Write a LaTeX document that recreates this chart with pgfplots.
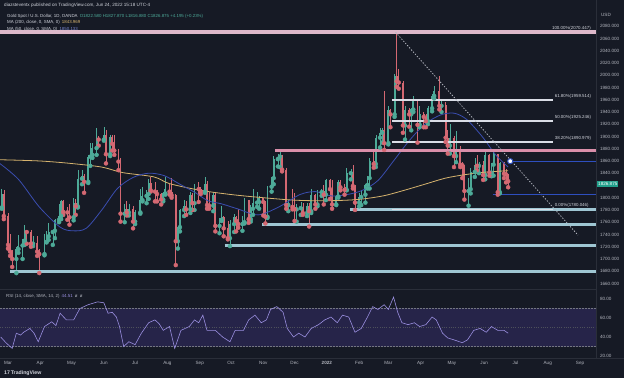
\documentclass[border=0pt]{standalone}
\usepackage{pgfplots}
\pgfplotsset{compat=1.18}
\usepackage{pgfplotstable}
\usepackage{fontspec}
\setmainfont{Liberation Sans}
\definecolor{bg}{HTML}{161A25}
\definecolor{txt}{HTML}{B2B5BE}
\definecolor{hdr}{HTML}{D1D4DC}
\definecolor{upc}{HTML}{4DAA98}
\definecolor{dnc}{HTML}{D46872}
\definecolor{ma200}{HTML}{D6B36E}
\definecolor{ma50}{HTML}{3A4DB0}
\definecolor{sup}{HTML}{9FC6D3}
\definecolor{pinkl}{HTML}{DA8FAA}
\definecolor{pinktop}{HTML}{DDB8CA}
\definecolor{fibw}{HTML}{DADDE6}
\definecolor{blu}{HTML}{2E4FBF}
\definecolor{rsil}{HTML}{9A8FE0}
\definecolor{rsiband}{HTML}{262449}
\definecolor{sep}{HTML}{2A2E39}
\definecolor{pricebox}{HTML}{22A08C}

\pgfplotstableread{
d o h l c
-6 1784 1815 1782 1806
-4 1806 1812 1765 1770
0 1770 1775 1717 1723
2 1723 1740 1705 1712
4 1712 1715 1687 1700
8 1700 1720 1677 1716
10 1716 1739 1710 1722
14 1722 1733 1700 1730
16 1730 1755 1723 1745
18 1745 1746 1725 1744
22 1744 1747 1720 1725
24 1725 1737 1721 1726
28 1726 1737 1705 1712
30 1712 1717 1677 1708
35 1708 1741 1706 1728
37 1728 1745 1727 1737
39 1737 1758 1731 1744
43 1744 1748 1723 1746
45 1746 1766 1734 1764
49 1764 1790 1760 1770
51 1770 1797 1765 1794
53 1794 1797 1772 1777
57 1777 1785 1764 1776
59 1776 1790 1756 1768
63 1768 1799 1763 1792
65 1792 1798 1772 1786
67 1786 1845 1784 1831
71 1831 1845 1822 1836
73 1836 1838 1808 1826
77 1826 1869 1824 1867
79 1867 1890 1852 1870
81 1870 1890 1865 1881
85 1881 1913 1870 1897
87 1897 1900 1885 1895
92 1895 1916 1893 1903
94 1903 1910 1856 1871
98 1871 1903 1868 1899
100 1899 1903 1877 1888
102 1888 1903 1870 1877
106 1877 1879 1845 1859
108 1859 1865 1761 1774
112 1774 1790 1760 1782
114 1782 1795 1771 1776
116 1776 1790 1771 1781
120 1781 1786 1750 1761
122 1761 1780 1757 1776
127 1776 1815 1774 1796
129 1796 1818 1794 1803
133 1803 1812 1791 1806
135 1806 1830 1798 1824
137 1824 1834 1810 1812
141 1812 1825 1794 1810
143 1810 1813 1794 1806
147 1806 1808 1789 1797
149 1797 1810 1794 1807
151 1807 1833 1805 1814
155 1814 1822 1805 1810
157 1810 1832 1800 1804
161 1804 1806 1690 1729
163 1729 1754 1717 1752
165 1752 1782 1745 1780
169 1780 1796 1770 1787
171 1787 1795 1772 1781
175 1781 1809 1775 1805
177 1805 1808 1780 1791
179 1791 1823 1780 1818
183 1818 1826 1793 1814
185 1814 1817 1806 1810
189 1810 1834 1808 1823
191 1823 1827 1782 1788
193 1788 1809 1782 1787
197 1787 1809 1778 1804
199 1804 1808 1745 1754
203 1754 1767 1742 1764
205 1764 1787 1762 1768
207 1768 1770 1737 1750
211 1750 1762 1732 1734
213 1734 1764 1721 1757
217 1757 1773 1744 1769
219 1769 1770 1745 1762
221 1762 1781 1751 1757
225 1757 1770 1746 1760
227 1760 1800 1758 1796
231 1796 1797 1759 1765
233 1765 1788 1761 1782
235 1782 1814 1772 1792
239 1792 1810 1785 1793
241 1793 1803 1782 1799
245 1799 1800 1771 1793
247 1793 1795 1758 1769
249 1769 1819 1767 1818
253 1818 1834 1810 1832
255 1832 1868 1822 1863
259 1863 1872 1851 1867
261 1867 1877 1850 1869
263 1869 1870 1843 1846
267 1846 1849 1782 1788
269 1788 1797 1778 1792
273 1792 1815 1781 1785
275 1785 1808 1762 1781
277 1781 1790 1761 1783
281 1783 1793 1772 1785
283 1785 1792 1772 1775
287 1775 1792 1770 1787
289 1787 1792 1753 1778
291 1778 1815 1775 1804
295 1804 1806 1782 1789
297 1789 1812 1786 1809
301 1809 1815 1803 1811
303 1811 1820 1789 1805
305 1805 1831 1796 1829
309 1829 1831 1798 1814
311 1814 1829 1782 1789
315 1789 1805 1788 1802
317 1802 1829 1800 1826
319 1826 1829 1812 1817
323 1817 1823 1805 1813
325 1813 1848 1812 1840
329 1840 1847 1830 1842
331 1842 1853 1815 1819
333 1819 1820 1780 1792
337 1792 1808 1786 1801
339 1801 1812 1788 1805
343 1805 1823 1792 1821
345 1821 1836 1815 1832
347 1832 1865 1815 1860
351 1860 1880 1849 1855
353 1855 1902 1850 1898
357 1898 1913 1882 1906
359 1906 1914 1890 1910
361 1910 1974 1878 1889
365 1889 1950 1887 1943
367 1943 1945 1915 1936
371 1936 2002 1932 1998
373 1998 2070 1981 1990
375 1990 2010 1978 1988
379 1988 1990 1906 1918
381 1918 1950 1895 1943
385 1943 1947 1916 1936
387 1936 1947 1910 1944
389 1944 1966 1940 1958
393 1958 1960 1890 1919
395 1919 1950 1915 1937
399 1937 1940 1915 1932
401 1932 1937 1915 1925
403 1925 1949 1920 1946
407 1946 1970 1941 1966
409 1966 1982 1962 1974
414 1974 1998 1944 1950
416 1950 1960 1940 1951
420 1951 1957 1891 1898
422 1898 1910 1872 1885
424 1885 1920 1872 1897
428 1897 1900 1850 1868
430 1868 1909 1858 1876
434 1876 1884 1850 1854
436 1854 1858 1832 1853
438 1853 1854 1797 1811
442 1811 1832 1787 1814
444 1814 1848 1807 1842
448 1842 1865 1834 1853
450 1853 1870 1845 1852
452 1852 1858 1840 1853
456 1853 1860 1829 1837
458 1837 1874 1830 1870
462 1870 1872 1836 1841
464 1841 1856 1835 1854
466 1854 1875 1836 1871
470 1871 1872 1805 1809
472 1809 1858 1807 1857
476 1857 1858 1832 1839
478 1839 1847 1825 1838
480 1838 1839 1817 1826.875
}\candles

\pgfplotstableread{
d v
-8 1862
30 1860
60 1856
90 1850
110 1841
140 1834
155 1823
185 1812
215 1805
245 1800
275 1796
305 1795
335 1797
360 1803
380 1812
400 1822
420 1832
440 1838
460 1842
480 1844
}\maA

\pgfplotstableread{
d v
-8 1856
10 1830
30 1785
50 1752
62 1746
75 1750
90 1780
105 1815
120 1833
135 1840
150 1836
165 1822
180 1808
192 1795
205 1790
220 1782
240 1772
260 1785
280 1805
295 1810
310 1803
325 1805
340 1812
355 1828
370 1860
385 1893
400 1920
415 1935
428 1938
440 1928
455 1900
468 1870
480 1850
}\maB

\pgfplotstableread{
d v
-7 40
-2 34
4 28
8 44
12 42
15 45
21 49
25 44
29 35
35 51
42 56
46 52
50 65
56 58
63 58
69 70
77 74
86 77
92 76
96 65
100 66
104 61
107 51
111 30
116 35
122 32
128 44
135 55
141 58
145 54
149 47
155 51
160 28
166 47
174 51
179 58
183 55
187 63
191 47
199 47
206 40
213 35
218 47
226 47
231 58
237 63
243 55
248 58
252 69
258 72
264 66
268 49
274 40
279 44
285 40
291 49
298 53
304 58
310 61
316 55
321 63
327 61
333 45
339 49
345 61
350 72
355 69
361 74
365 69
370 82
374 66
378 55
384 53
390 55
395 51
401 53
407 61
411 58
417 44
422 39
428 37
436 34
441 37
447 47
453 49
459 45
464 51
470 47
476 47
480 44
}\rsi

\begin{document}
\begin{tikzpicture}[x=1pt,y=1pt]
\fill[bg] (0,0) rectangle (624,378);
\useasboundingbox (0,0) rectangle (624,378);
\draw[sep, line width=0.6pt] (0,88.5) -- (596,88.5);
\draw[sep, line width=0.6pt] (596,20) -- (596,378);
\draw[sep, line width=0.6pt] (0,20) -- (624,20);

% ---------------- price pane ----------------
\begin{axis}[at={(0pt,89pt)}, anchor=south west, scale only axis,
  width=596pt, height=279pt,
  xmin=-7.68, xmax=564.3, ymin=1651, ymax=2106.4,
  axis x line=none, axis y line*=right, y axis line style={draw=none},
  major tick length=0pt, clip=true,
  ytick={1660,1680,1700,1720,1740,1760,1780,1800,1840,1860,1880,1900,1920,1940,1960,1980,2000,2020,2040,2060,2080},
  yticklabel style={font=\fontsize{4.6}{5}\selectfont, text=txt, anchor=west, xshift=0.5pt,
    /pgf/number format/.cd, fixed, fixed zerofill, precision=3, 1000 sep={}, assume math mode=true},
]
% wicks
\addplot[upc, only marks, mark=none, restrict expr to domain={\thisrow{c}-\thisrow{o}}{0:1000},
  error bars/.cd, y dir=plus, y explicit, error mark=none,
  error bar style={color=upc, line width=0.6pt}]
  table[x=d, y=l, y error expr=\thisrow{h}-\thisrow{l}] {\candles};
\addplot[dnc, only marks, mark=none, restrict expr to domain={\thisrow{c}-\thisrow{o}}{-1000:-0.001},
  error bars/.cd, y dir=plus, y explicit, error mark=none,
  error bar style={color=dnc, line width=0.6pt}]
  table[x=d, y=l, y error expr=\thisrow{h}-\thisrow{l}] {\candles};
% bodies
\addplot[upc, only marks, mark=none, restrict expr to domain={\thisrow{c}-\thisrow{o}}{0:1000},
  error bars/.cd, y dir=plus, y explicit, error mark=none,
  error bar style={color=upc, line width=1.9pt}]
  table[x=d, y=o, y error expr=\thisrow{c}-\thisrow{o}] {\candles};
\addplot[dnc, only marks, mark=none, restrict expr to domain={\thisrow{c}-\thisrow{o}}{-1000:-0.001},
  error bars/.cd, y dir=plus, y explicit, error mark=none,
  error bar style={color=dnc, line width=1.9pt}]
  table[x=d, y=c, y error expr=\thisrow{o}-\thisrow{c}] {\candles};
% moving averages
\addplot[ma200, line width=0.8pt, smooth] table[x=d, y=v] {\maA};
\addplot[ma50, line width=0.8pt, smooth] table[x=d, y=v] {\maB};
% horizontal levels
\addplot[pinktop, line width=3.5pt] coordinates {(-7.68,2070.447) (564.3,2070.447)};
\addplot[pinkl, line width=2.5pt] coordinates {(256,1877) (564.3,1877)};
\addplot[sup, line width=3pt] coordinates {(328,1780) (564.3,1780)};
\addplot[sup, line width=3pt] coordinates {(244,1757) (564.3,1757)};
\addplot[sup, line width=3pt] coordinates {(208,1722) (564.3,1722)};
\addplot[sup, line width=3pt] coordinates {(2,1680) (564.3,1680)};
% fibonacci lines
\addplot[fibw, line width=1.3pt] coordinates {(368.5,1959.514) (523,1959.514)};
\addplot[fibw, line width=1.3pt] coordinates {(368.5,1925.246) (523,1925.246)};
\addplot[fibw, line width=1.3pt] coordinates {(368.5,1890.979) (523,1890.979)};
\addplot[fibw, line width=1.3pt] coordinates {(368.5,1781.2) (523,1781.2)};
% trend line
\addplot[color=txt, line width=0.8pt, dash pattern=on 1.3pt off 1.6pt] coordinates {(372,2070) (547,1739)};
% blue levels
\addplot[blu, line width=1.2pt] coordinates {(482,1859.6) (564.3,1859.6)};
\addplot[blu, line width=1.2pt] coordinates {(465,1805.7) (564.3,1805.7)};
\addplot[only marks, mark=*, mark size=2.6pt, mark options={fill=white, draw=blu, line width=1pt}] coordinates {(482,1859.6)};
% labels
\node[anchor=south east, font=\fontsize{4.4}{5}\selectfont, text=hdr, inner sep=0.6pt] at (axis cs:560,2071.5) {100.00\%(2070.447)};
\node[anchor=south west, font=\fontsize{4.4}{5}\selectfont, text=hdr, inner sep=0.6pt] at (axis cs:524,1960.5) {61.80\%(1959.514)};
\node[anchor=south west, font=\fontsize{4.4}{5}\selectfont, text=hdr, inner sep=0.6pt] at (axis cs:524,1926.2) {50.00\%(1925.246)};
\node[anchor=south west, font=\fontsize{4.4}{5}\selectfont, text=hdr, inner sep=0.6pt] at (axis cs:524,1892) {38.20\%(1890.979)};
\node[anchor=south west, font=\fontsize{4.4}{5}\selectfont, text=hdr, inner sep=0.6pt] at (axis cs:524,1783) {0.00\%(1780.046)};
\end{axis}

% ---------------- RSI pane ----------------
\begin{axis}[at={(0pt,20pt)}, anchor=south west, scale only axis,
  width=596pt, height=67pt,
  xmin=-7.68, xmax=564.3, ymin=17.9, ymax=88.4,
  axis x line*=bottom, axis y line*=right, axis line style={draw=none},
  major tick length=0pt, clip=true,
  ytick={20,40,60,80},
  yticklabel style={font=\fontsize{4.6}{5}\selectfont, text=txt, anchor=west, xshift=0.5pt,
    /pgf/number format/.cd, fixed, fixed zerofill, precision=2, assume math mode=true},
  xtick={0,31,61,92,122,153,184,214,245,275,306,337,365,396,426,457,487,518,549},
  xticklabels={Mar,Apr,May,Jun,Jul,Aug,Sep,Oct,Nov,Dec,\textbf{2022},Feb,Mar,Apr,May,Jun,Jul,Aug,Sep},
  xticklabel style={font=\fontsize{4.6}{5}\selectfont, text=txt, anchor=north, yshift=0pt},
]
\addplot[draw=none, fill=rsiband] coordinates {(-7.68,30) (564.3,30) (564.3,70) (-7.68,70)};
\addplot[color=txt!60!bg, line width=0.5pt, dash pattern=on 1.5pt off 1.5pt] coordinates {(-7.68,70) (564.3,70)};
\addplot[color=txt!60!bg, line width=0.5pt, dash pattern=on 1.5pt off 1.5pt] coordinates {(-7.68,30) (564.3,30)};
\addplot[color=txt!35!bg, line width=0.4pt, dash pattern=on 0.8pt off 1.5pt] coordinates {(-7.68,50) (564.3,50)};
\addplot[rsil, line width=0.6pt] table[x=d, y=v] {\rsi};
\end{axis}

% ---------------- header texts ----------------
\node[anchor=base west, font=\fontsize{4.6}{5}\selectfont, text=hdr, inner sep=0pt] at (4,371) {diazsteventx published on TradingView.com, Jun 24, 2022 15:18 UTC-4};
\node[anchor=base west, font=\fontsize{4.4}{5}\selectfont, text=hdr, inner sep=0pt] at (7,360.5) {Gold Spot / U.S. Dollar, 1D, OANDA\enspace\textcolor{upc}{O1822.580 H1827.870 L1816.880 C1826.875 +4.195 (+0.23\%)}};
\node[anchor=base west, font=\fontsize{4.4}{5}\selectfont, text=hdr, inner sep=0pt] at (7,354) {MA (200, close, 0, SMA, 0)\enspace\textcolor{ma200}{1843.969}};
\node[anchor=base west, font=\fontsize{4.4}{5}\selectfont, text=hdr, inner sep=0pt] at (7,347.5) {MA (50, close, 0, SMA, 0)\enspace\textcolor{ma50!70!white}{1850.133}};
\node[anchor=base west, font=\fontsize{4.4}{5}\selectfont, text=txt, inner sep=0pt] at (6,80.5) {RSI (14, close, SMA, 14, 2)\enspace\textcolor{rsil}{44.51}\enspace ø\enspace ø};
\node[anchor=center, font=\fontsize{4.6}{5}\selectfont, text=txt, inner sep=0pt] at (606,363) {USD};
\node[anchor=west, fill=pricebox, text=white, font=\fontsize{4.6}{5}\selectfont, inner sep=1pt] at (597,194) {1826.875};
\node[anchor=base west, font=\bfseries\fontsize{5.2}{6}\selectfont, text=hdr, inner sep=0pt] at (4,4) {17\,TradingView};
\end{tikzpicture}
\end{document}
